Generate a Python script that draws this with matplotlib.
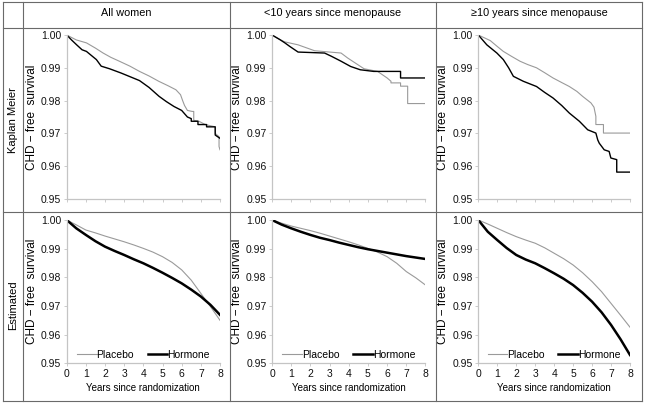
import numpy as np
import matplotlib
matplotlib.use("Agg")
import matplotlib.pyplot as plt
from matplotlib.lines import Line2D

narrow = ['Liberation Sans Narrow', 'Liberation Sans', 'DejaVu Sans']
regular = ['Liberation Sans', 'DejaVu Sans']
plt.rcParams['font.family'] = narrow

col_titles = ["All women", "<10 years since menopause", "\u226510 years since menopause"]
row_titles = ["Kaplan Meier", "Estimated"]

#Kaplan Meier curves, (time, survival); repeated times are the vertical drops
km_all_plac_t = [0, 0.5, 1.03, 1.5, 1.9, 2.3, 2.75, 3.3, 3.8, 4.3, 4.8, 5.3, 5.7, 5.94, 6.05, 6.15, 6.3, 6.55, 6.63, 6.63, 6.9, 7.23, 7.75, 7.75, 7.95, 7.95, 8.0]
km_all_plac_s = [1.0, 0.9985, 0.9976, 0.9960, 0.9945, 0.9932, 0.9920, 0.9905, 0.9889, 0.9875, 0.9859, 0.9845, 0.9833, 0.9818, 0.9800, 0.9785, 0.9770, 0.9767, 0.9767, 0.9740, 0.9737, 0.9727, 0.9720, 0.9700, 0.9690, 0.9660, 0.9650]
km_all_horm_t = [0, 0.25, 0.52, 0.8, 1.03, 1.3, 1.55, 1.8, 2.24, 2.84, 3.3, 3.8, 4.3, 4.82, 5.2, 5.6, 6.0, 6.3, 6.5, 6.5, 6.85, 6.85, 7.3, 7.3, 7.75, 7.75, 8.0]
km_all_horm_s = [1.0, 0.9985, 0.9970, 0.9955, 0.9950, 0.9937, 0.9925, 0.9905, 0.9897, 0.9884, 0.9873, 0.9861, 0.9840, 0.9813, 0.9797, 0.9782, 0.9770, 0.9750, 0.9745, 0.9737, 0.9737, 0.9727, 0.9727, 0.9720, 0.9720, 0.9695, 0.9685]

km_lt10_plac_t = [0, 0.41, 0.67, 1.36, 2.22, 3.6, 3.94, 4.46, 4.8, 5.5, 6.0, 6.2, 6.2, 6.7, 6.7, 7.07, 7.07, 8.0]
km_lt10_plac_s = [1.0, 0.9986, 0.9979, 0.9970, 0.9952, 0.9945, 0.9930, 0.9910, 0.9897, 0.9889, 0.9869, 0.9859, 0.9854, 0.9854, 0.9844, 0.9844, 0.9791, 0.9791]
km_lt10_horm_t = [0, 0.41, 0.67, 0.93, 1.36, 2.74, 3.1, 3.6, 4.1, 4.6, 5.3, 6.7, 6.7, 8.0]
km_lt10_horm_s = [1.0, 0.9986, 0.9976, 0.9965, 0.9948, 0.9945, 0.9935, 0.9920, 0.9904, 0.9894, 0.9889, 0.9889, 0.9869, 0.9869]

km_ge10_plac_t = [0, 0.63, 1.0, 1.32, 1.75, 2.2, 2.6, 3.07, 3.5, 3.94, 4.4, 4.8, 5.2, 5.5, 5.94, 6.1, 6.2, 6.2, 6.6, 6.6, 8.0]
km_ge10_plac_s = [1.0, 0.9983, 0.9965, 0.9950, 0.9935, 0.9920, 0.9910, 0.9900, 0.9885, 0.9869, 0.9855, 0.9843, 0.9828, 0.9813, 0.9793, 0.9780, 0.9752, 0.9727, 0.9727, 0.9701, 0.9701]
km_ge10_horm_t = [0, 0.45, 0.98, 1.32, 1.6, 1.85, 2.37, 3.07, 3.5, 3.94, 4.4, 4.8, 5.33, 5.77, 6.2, 6.3, 6.38, 6.64, 6.9, 6.99, 7.3, 7.3, 8.0]
km_ge10_horm_s = [1.0, 0.9970, 0.9945, 0.9925, 0.9900, 0.9874, 0.9859, 0.9843, 0.9825, 0.9808, 0.9785, 0.9762, 0.9737, 0.9711, 0.9701, 0.9680, 0.9670, 0.9650, 0.9645, 0.9625, 0.9620, 0.9582, 0.9582]

#estimated curves, read every half year
est_t = [0, 0.5, 1, 1.5, 2, 2.5, 3, 3.5, 4, 4.5, 5, 5.5, 6, 6.5, 7, 7.5, 8]
est_all_plac = [1.0, 0.9983, 0.9965, 0.9955, 0.9944, 0.9934, 0.9924, 0.9913, 0.9901, 0.9888, 0.9872, 0.9852, 0.9826, 0.9790, 0.9744, 0.9698, 0.9650]
est_all_horm = [1.0, 0.9971, 0.9948, 0.9926, 0.9907, 0.9892, 0.9878, 0.9863, 0.9849, 0.9833, 0.9816, 0.9798, 0.9779, 0.9757, 0.9733, 0.9704, 0.9669]
est_lt10_plac = [1.0, 0.9989, 0.9979, 0.9971, 0.9963, 0.9954, 0.9944, 0.9934, 0.9924, 0.9913, 0.9901, 0.9888, 0.9872, 0.9849, 0.9820, 0.9798, 0.9773]
est_lt10_horm = [1.0, 0.9984, 0.9971, 0.9959, 0.9948, 0.9938, 0.9930, 0.9921, 0.9913, 0.9905, 0.9898, 0.9892, 0.9886, 0.9880, 0.9874, 0.9869, 0.9864]
est_ge10_plac = [1.0, 0.9986, 0.9971, 0.9956, 0.9942, 0.9930, 0.9919, 0.9903, 0.9884, 0.9865, 0.9843, 0.9816, 0.9785, 0.9750, 0.9709, 0.9668, 0.9626]
est_ge10_horm = [1.0, 0.9959, 0.9930, 0.9902, 0.9878, 0.9862, 0.9849, 0.9832, 0.9814, 0.9795, 0.9773, 0.9746, 0.9715, 0.9678, 0.9634, 0.9584, 0.9529]

km = [((km_all_plac_t, km_all_plac_s), (km_all_horm_t, km_all_horm_s)),
      ((km_lt10_plac_t, km_lt10_plac_s), (km_lt10_horm_t, km_lt10_horm_s)),
      ((km_ge10_plac_t, km_ge10_plac_s), (km_ge10_horm_t, km_ge10_horm_s))]
est = [(est_all_plac, est_all_horm), (est_lt10_plac, est_lt10_horm), (est_ge10_plac, est_ge10_horm)]

W, H = 646, 404
fig = plt.figure(figsize=(W/100, H/100), dpi=100)

#panel boxes in pixels (left, right) and (top, bottom)
cols_px = [(66.7, 220.0), (272.0, 425.5), (478.3, 630.0)]
rows_px = [(35.0, 199.0), (220.0, 363.3)]

def px_axes(x0, x1, y0, y1):
    return fig.add_axes([x0/W, 1 - y1/H, (x1-x0)/W, (y1-y0)/H])

axis_grey = "#c4c4c4"
plac_col = "#9a9a9a"

for r in range(2):
    for c in range(3):
        x0, x1 = cols_px[c]
        y0, y1 = rows_px[r]
        ax = px_axes(x0, x1, y0, y1)
        if r == 0:
            (pt, ps), (ht, hs) = km[c]
            ax.plot(pt, ps, color=plac_col, lw=0.8)
            ax.plot(ht, hs, color="black", lw=1.0)
        else:
            p, h = est[c]
            ax.plot(est_t, p, color=plac_col, lw=0.8, label="Placebo")
            ax.plot(est_t, h, color="black", lw=1.8, label="Hormone")
            ax.legend(loc="lower center", bbox_to_anchor=(0.5, -0.04), ncol=2, frameon=False,
                      fontsize=7.5, handlelength=1.9, handletextpad=0.0, columnspacing=1.3)
            ax.set_xlabel("Years since randomization", fontsize=7, labelpad=3)
        ax.set_xlim(0, 8)
        ax.set_ylim(0.95, 1.0)
        ax.set_xticks(np.arange(0, 9, 1))
        ax.set_yticks([0.95, 0.96, 0.97, 0.98, 0.99, 1.00])
        ax.yaxis.set_major_formatter(matplotlib.ticker.FormatStrFormatter("%.2f"))
        if r == 0:
            ax.set_xticklabels([])
        for s in ["top", "right"]:
            ax.spines[s].set_visible(False)
        for s in ["left", "bottom"]:
            ax.spines[s].set_color(axis_grey)
            ax.spines[s].set_linewidth(0.9)
        ax.tick_params(direction="out", length=2.5, width=0.6, color=axis_grey,
                       labelsize=7.5, pad=1.5, labelcolor="#111111")
        ax.set_ylabel("CHD \u2212 free  survival", fontsize=8.5)
        ax.yaxis.set_label_coords(-29/(x1-x0), 0.5)

#table grid
line_col = "#6a6a6a"
for y in [1.5, 28, 212, 401]:
    fig.add_artist(Line2D([3/W, 642/W], [1 - y/H, 1 - y/H], color=line_col, lw=0.8))
for x in [3, 23, 230, 436, 642]:
    fig.add_artist(Line2D([x/W, x/W], [1 - 1.5/H, 1 - 401/H], color=line_col, lw=0.8))

for c, title in enumerate(col_titles):
    xc = [126.5, 333, 539][c]
    fig.text(xc/W, 1 - 13/H, title, ha="center", va="center", fontsize=7.8, family=regular)
for r, title in enumerate(row_titles):
    yc = [120, 305][r]
    fig.text(13/W, 1 - yc/H, title, ha="center", va="center", rotation=90, fontsize=8, family=regular)

fig.savefig("out.png", dpi=100)
